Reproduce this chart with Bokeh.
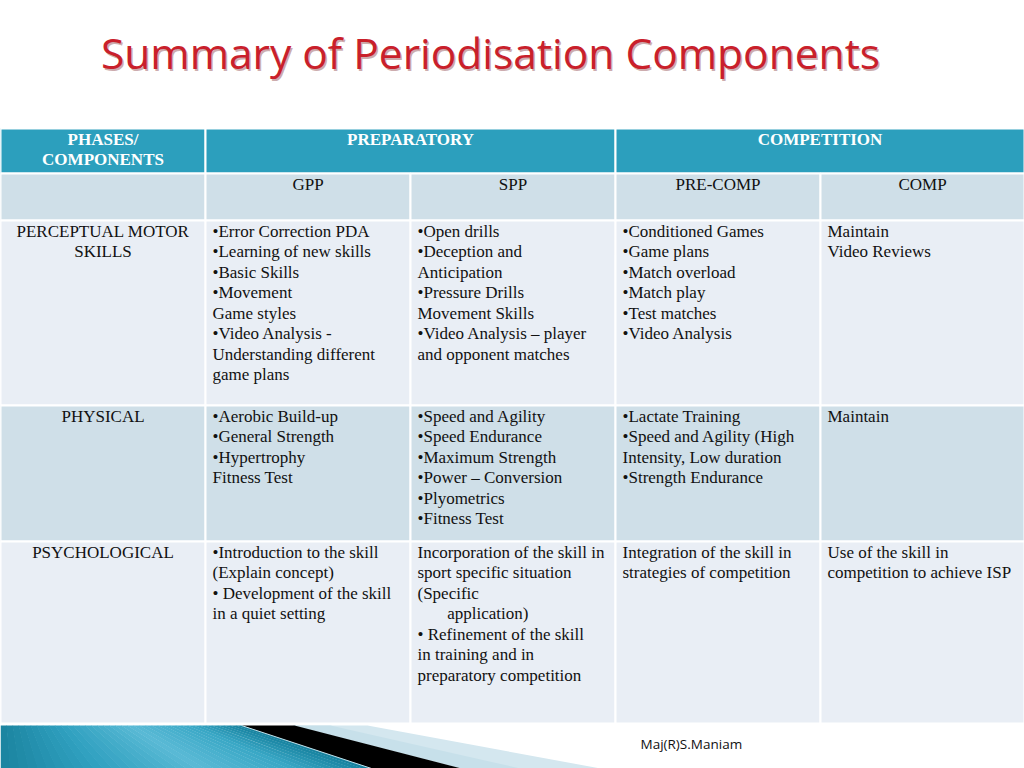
from bokeh.plotting import figure
from bokeh.models import Range1d
from bokeh.core.properties import value
from bokeh.embed import file_html
from bokeh.resources import INLINE
import numpy as np

# ---------------- data ----------------
title = "Summary of Periodisation Components"
phase_headers = [["PHASES/", "COMPONENTS"], ["PREPARATORY"], ["COMPETITION"]]
sub_headers = ["", "GPP", "SPP", "PRE-COMP", "COMP"]
components = [["PERCEPTUAL MOTOR", "SKILLS"], ["PHYSICAL"], ["PSYCHOLOGICAL"]]
gpp = [
    ["\u2022Error Correction PDA", "\u2022Learning of new skills", "\u2022Basic Skills",
     "\u2022Movement", "Game styles", "\u2022Video Analysis -",
     "Understanding different", "game plans"],
    ["\u2022Aerobic Build-up", "\u2022General Strength", "\u2022Hypertrophy", "Fitness Test"],
    ["\u2022Introduction to the skill", "(Explain concept)",
     "\u2022 Development of the skill", "in a quiet setting"],
]
spp = [
    ["\u2022Open drills", "\u2022Deception and", "Anticipation", "\u2022Pressure Drills",
     "Movement Skills", "\u2022Video Analysis \u2013 player", "and opponent matches"],
    ["\u2022Speed and Agility", "\u2022Speed Endurance", "\u2022Maximum Strength",
     "\u2022Power \u2013 Conversion", "\u2022Plyometrics", "\u2022Fitness Test"],
    ["Incorporation of the skill in", "sport specific situation", "(Specific",
     "\u00a0" * 7 + "application)", "\u2022  Refinement of the skill",
     "in training and in", "preparatory competition"],
]
pre_comp = [
    ["\u2022Conditioned Games", "\u2022Game plans", "\u2022Match overload",
     "\u2022Match play", "\u2022Test matches", "\u2022Video Analysis"],
    ["\u2022Lactate Training", "\u2022Speed and Agility (High",
     "Intensity, Low duration", "\u2022Strength Endurance"],
    ["Integration of the skill in", "strategies of competition"],
]
comp = [
    ["Maintain", "Video Reviews"],
    ["Maintain"],
    ["Use of the skill in", "competition to achieve ISP"],
]
footer = "Maj(R)S.Maniam"

# ---------------- layout (page pixels) ----------------
col_edges = [0, 205, 410, 615, 820, 1024]
row_edges = [128, 173, 220, 405, 541, 723]
HEADER = "#2c9fbd"
SUB = "#cfdfe8"
BODY = ["#e9eef5", "#cfdfe8", "#e9eef5"]
FS = "17px"
LH = 20.5
PAD = 10.5
SERIF = value("Liberation Serif")

p = figure(width=1024, height=768, x_range=Range1d(0, 1024), y_range=Range1d(768, 0),
           output_backend="svg", toolbar_location=None,
           x_axis_type=None, y_axis_type=None, min_border=0,
           background_fill_color="white", border_fill_color="white")
p.grid.visible = False
p.outline_line_color = None

# ---- bottom-left decoration ----
n = 40
stops_x = [0, 60, 130, 190, 241]
stops_c = [(0x1c, 0x84, 0xa0), (0x2f, 0xa0, 0xbf), (0x5a, 0xba, 0xd6), (0x3a, 0xa8, 0xc6), (0x15, 0x80, 0x9d)]
edges = np.linspace(0, 241, n + 1)
k = 371 / 241
xs_b, ys_b, cols_b = [], [], []
for i in range(n):
    a, b = edges[i], edges[i + 1]
    m = (a + b) / 2
    c = [int(np.interp(m, stops_x, [s[j] for s in stops_c])) for j in range(3)]
    xs_b.append([a, b + 0.5, (b + 0.5) * k, a * k])
    ys_b.append([725, 725, 768, 768])
    cols_b.append("#%02x%02x%02x" % tuple(c))
p.patches(xs_b, ys_b, fill_color=cols_b, line_color=None)
p.patch([292, 367, 600, 461], [725, 725, 768, 768], fill_color="#d4e7ef", line_color=None)
p.patch([292, 330, 520, 461], [725, 725, 768, 768], fill_color="#c7e0ea", line_color=None)
p.patch([241, 294, 461, 371], [725, 725, 768, 768], fill_color="black", line_color=None)
p.line([241, 371], [725, 768], line_color="#bfe3ee", line_width=1)

# ---- table cells ----
L, R, T, B, C = [], [], [], [], []
for (c0, c1) in [(0, 1), (1, 3), (3, 5)]:
    L.append(col_edges[c0]); R.append(col_edges[c1])
    T.append(row_edges[0]); B.append(row_edges[1]); C.append(HEADER)
for c in range(5):
    L.append(col_edges[c]); R.append(col_edges[c + 1])
    T.append(row_edges[1]); B.append(row_edges[2]); C.append(SUB)
for r in range(3):
    for c in range(5):
        L.append(col_edges[c]); R.append(col_edges[c + 1])
        T.append(row_edges[r + 2]); B.append(row_edges[r + 3]); C.append(BODY[r])
p.quad(left=L, right=R, top=T, bottom=B, fill_color=C, line_color="white", line_width=2)

# ---- texts ----
cx, cy, ct = [], [], []
lx, ly, lt = [], [], []
hx, hy, ht = [], [], []

hdr_cols = [(0, 1), (1, 3), (3, 5)]
for (c0, c1), lines in zip(hdr_cols, phase_headers):
    for i, s in enumerate(lines):
        hx.append((col_edges[c0] + col_edges[c1]) / 2)
        hy.append(row_edges[0] + PAD + i * LH)
        ht.append(s)
for c, s in enumerate(sub_headers):
    if s:
        cx.append((col_edges[c] + col_edges[c + 1]) / 2)
        cy.append(row_edges[1] + PAD)
        ct.append(s)
for r in range(3):
    top = row_edges[r + 2]
    for i, s in enumerate(components[r]):
        cx.append((col_edges[0] + col_edges[1]) / 2)
        cy.append(top + PAD + i * LH)
        ct.append(s)
    for c, col in enumerate([gpp, spp, pre_comp, comp], start=1):
        for i, s in enumerate(col[r]):
            lx.append(col_edges[c] + 7)
            ly.append(top + PAD + i * LH)
            lt.append(s)

p.text(x=hx, y=hy, text=ht, text_font=SERIF, text_font_size=FS, text_font_style="bold",
       text_color="white", text_align="center", text_baseline="alphabetic")
p.text(x=cx, y=cy, text=ct, text_font=SERIF, text_font_size=FS,
       text_color="#111111", text_align="center", text_baseline="alphabetic")
p.text(x=lx, y=ly, text=lt, text_font=SERIF, text_font_size=FS,
       text_color="#111111", text_align="left", text_baseline="alphabetic")

# ---- title ----
p.text(x=[491.5], y=[53.5], text=[title], text_font=value("Open Sans"), text_font_size="42.5px",
       text_color="#6e1015", text_alpha=0.35, text_align="center", text_baseline="alphabetic")
p.text(x=[490], y=[52], text=[title], text_font=value("Open Sans"), text_font_size="42.5px",
       text_color="#c9202b", text_align="center", text_baseline="alphabetic")

# ---- footer ----
p.text(x=[640], y=[743], text=[footer], text_font=value("Open Sans"), text_font_size="13.5px",
       text_color="#111111", text_align="left", text_baseline="alphabetic")

open("out.html", "w").write(file_html(p, INLINE))
